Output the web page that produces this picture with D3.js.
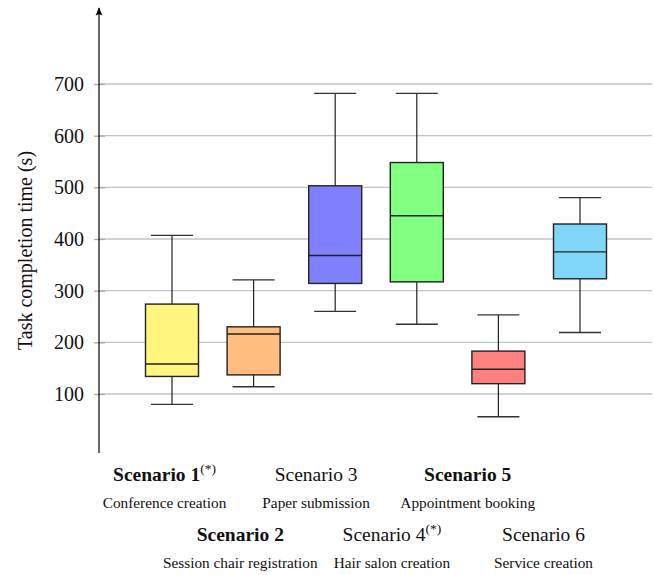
<!DOCTYPE html>
<html>
<head>
<meta charset="utf-8">
<script src="https://cdn.jsdelivr.net/npm/d3@7"></script>
<style>
  body { margin: 0; background: #fff; }
  text { font-family: "Liberation Serif", "DejaVu Serif", serif; fill: #111; }
</style>
</head>
<body>
<div id="chart"></div>
<script>
// data
let scenarios = ["Scenario 1", "Scenario 2", "Scenario 3", "Scenario 4", "Scenario 5", "Scenario 6"];
let subtitles = ["Conference creation", "Session chair registration", "Paper submission",
                 "Hair salon creation", "Appointment booking", "Service creation"];
let starred = [true, false, false, true, false, false];
let boldLabel = [true, true, false, false, true, false];
let lowWhisker = [80, 114, 260, 235, 56, 219];
let q1 = [134, 137, 314, 317, 120, 323];
let median = [158, 216, 368, 445, 148, 375];
let q3 = [274, 230, 503, 548, 183, 429];
let highWhisker = [407, 321, 682, 682, 253, 480];
let fills = ["#fff57f", "#ffbe7f", "#8080ff", "#80ff80", "#ff8080", "#80d6f6"];
let yTicks = [100, 200, 300, 400, 500, 600, 700];

let width = 654, height = 575;

let svg = d3.select("#chart").append("svg")
    .attr("width", width)
    .attr("height", height);

// scales
let y = d3.scaleLinear()
    .domain([100, 700])
    .range([394, 84]);

let x = d3.scalePoint()
    .domain(scenarios)
    .range([172, 580]);

let xLabel = d3.scalePoint()
    .domain(scenarios)
    .range([164.5, 543.5]);

let axisX = 99;
let boxW = 53, capW = 42;

// grid
svg.append("g")
    .selectAll("line")
    .data(yTicks)
    .enter().append("line")
    .attr("x1", axisX)
    .attr("x2", 652)
    .attr("y1", d => y(d))
    .attr("y2", d => y(d))
    .attr("stroke", "#c4c4c4")
    .attr("stroke-width", 1.3);

// y axis
let yAxis = d3.axisLeft(y)
    .tickValues(yTicks)
    .tickSize(5)
    .tickPadding(10);

let yGroup = svg.append("g")
    .attr("transform", "translate(" + axisX + ",0)")
    .call(yAxis)
    .attr("font-family", "'Liberation Serif', 'DejaVu Serif', serif")
    .attr("font-size", 20);
yGroup.select(".domain").remove();
yGroup.selectAll(".tick line")
    .attr("x1", -5).attr("x2", 6)
    .attr("stroke", "#aaa").attr("stroke-width", 1.3);
yGroup.selectAll(".tick text")
    .attr("fill", "#111");

// axis line with arrow
svg.append("defs").append("marker")
    .attr("id", "arrow")
    .attr("viewBox", "0 0 10 10")
    .attr("refX", 9).attr("refY", 5)
    .attr("markerWidth", 7).attr("markerHeight", 7)
    .attr("orient", "auto")
    .append("path")
    .attr("d", "M0,1 L10,5 L0,9 L2,5 Z")
    .attr("fill", "#000");

svg.append("line")
    .attr("x1", axisX).attr("x2", axisX)
    .attr("y1", 453).attr("y2", 8)
    .attr("stroke", "#000")
    .attr("stroke-width", 1.2)
    .attr("marker-end", "url(#arrow)");

svg.append("text")
    .attr("transform", "translate(32,250.5) rotate(-90)")
    .attr("text-anchor", "middle")
    .style("font-size", "20px")
    .text("Task completion time (s)");

// boxes
let boxes = svg.append("g")
    .selectAll("g")
    .data(scenarios)
    .enter().append("g");

boxes.append("line")
    .attr("x1", d => x(d)).attr("x2", d => x(d))
    .attr("y1", (d, i) => y(highWhisker[i]))
    .attr("y2", (d, i) => y(q3[i]))
    .attr("stroke", "#222").attr("stroke-width", 1.2);
boxes.append("line")
    .attr("x1", d => x(d)).attr("x2", d => x(d))
    .attr("y1", (d, i) => y(q1[i]))
    .attr("y2", (d, i) => y(lowWhisker[i]))
    .attr("stroke", "#222").attr("stroke-width", 1.2);
boxes.append("line")
    .attr("x1", d => x(d) - capW / 2).attr("x2", d => x(d) + capW / 2)
    .attr("y1", (d, i) => y(highWhisker[i]))
    .attr("y2", (d, i) => y(highWhisker[i]))
    .attr("stroke", "#333").attr("stroke-width", 1.3);
boxes.append("line")
    .attr("x1", d => x(d) - capW / 2).attr("x2", d => x(d) + capW / 2)
    .attr("y1", (d, i) => y(lowWhisker[i]))
    .attr("y2", (d, i) => y(lowWhisker[i]))
    .attr("stroke", "#333").attr("stroke-width", 1.3);

boxes.append("rect")
    .attr("x", d => x(d) - boxW / 2)
    .attr("width", boxW)
    .attr("y", (d, i) => y(q3[i]))
    .attr("height", (d, i) => y(q1[i]) - y(q3[i]))
    .attr("fill", (d, i) => fills[i])
    .attr("stroke", "#222")
    .attr("stroke-width", 1.4);

boxes.append("line")
    .attr("x1", d => x(d) - boxW / 2).attr("x2", d => x(d) + boxW / 2)
    .attr("y1", (d, i) => y(median[i]))
    .attr("y2", (d, i) => y(median[i]))
    .attr("stroke", "#222").attr("stroke-width", 1.4);

// category labels, staggered in two rows
let labels = svg.append("g")
    .selectAll("g")
    .data(scenarios)
    .enter().append("g")
    .attr("transform", (d, i) => "translate(" + xLabel(d) + "," + (i % 2 === 0 ? 481 : 541) + ")");

let title = labels.append("text")
    .attr("text-anchor", "middle")
    .style("font-size", "19.5px")
    .style("font-weight", (d, i) => boldLabel[i] ? "bold" : "normal");
title.append("tspan").text(d => d);
title.filter((d, i) => starred[i])
    .append("tspan")
    .attr("dy", -8)
    .style("font-size", "13.5px")
    .style("font-weight", "normal")
    .text("(*)");

labels.append("text")
    .attr("text-anchor", "middle")
    .attr("y", 27)
    .style("font-size", "15.3px")
    .text((d, i) => subtitles[i]);
</script>
</body>
</html>
